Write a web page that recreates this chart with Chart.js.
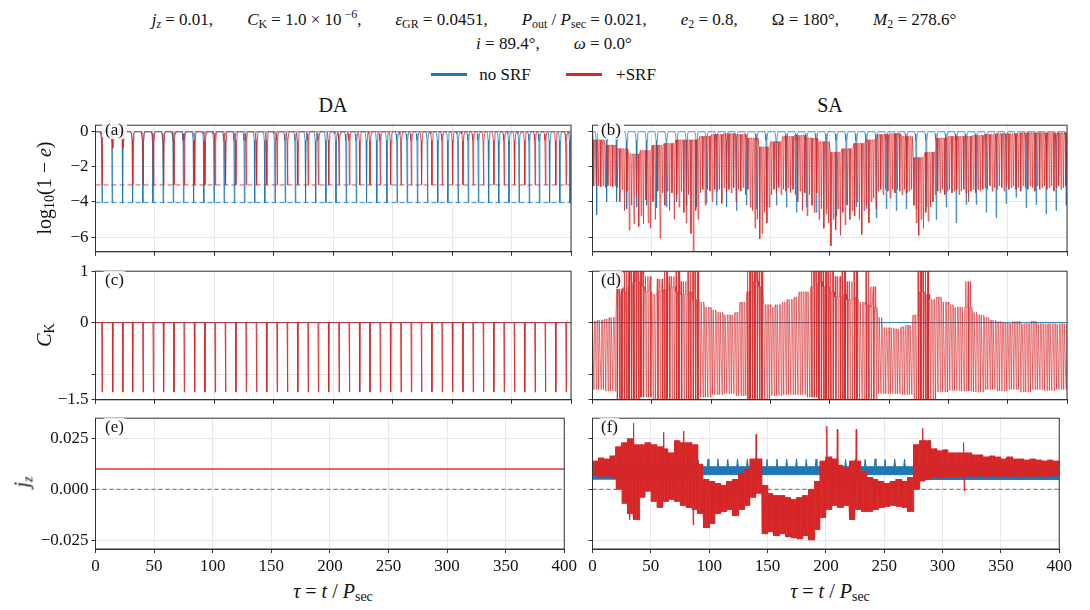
<!DOCTYPE html>
<html>
<head>
<meta charset="utf-8">
<script src="https://cdn.jsdelivr.net/npm/chart.js@4.4.1/dist/chart.umd.min.js"></script>
<style>
  body { margin: 0; background: #fff; font-family: 'Liberation Serif', 'DejaVu Serif', serif; color: #111; }
  #wrap { position: relative; width: 1090px; height: 610px; overflow: hidden; }
  canvas { position: absolute; }
  .txt { position: absolute; white-space: nowrap; transform: translate(-50%, -50%); }
  .rot { position: absolute; white-space: nowrap; transform: translate(-50%, -50%) rotate(-90deg); font-size: 20px; }
  sub { font-size: 70%; vertical-align: -0.25em; line-height: 0; }
  sup { font-size: 70%; vertical-align: 0.6em; line-height: 0; }
  .gap { display: inline-block; width: 34px; }
  .tag { position: absolute; font-size: 17px; line-height: 18px; padding: 0 3px; background: rgba(255,255,255,0.85); border-radius: 4px; }
  .leg { position: absolute; top: 73px; height: 3px; width: 36px; }
</style>
</head>
<body>
<div id="wrap">
  <div class="txt" style="left:554px;top:20px;font-size:17px;">
    <i>j<sub>z</sub></i> = 0.01,<span class="gap"></span><i>C</i><sub>K</sub> = 1.0 × 10<sup> −6</sup>,<span class="gap"></span><i>ε</i><sub>GR</sub> = 0.0451,<span class="gap"></span><i>P</i><sub>out</sub> / <i>P</i><sub>sec</sub> = 0.021,<span class="gap"></span><i>e</i><sub>2</sub> = 0.8,<span class="gap"></span>Ω = 180°,<span class="gap"></span><i>M</i><sub>2</sub> = 278.6°
  </div>
  <div class="txt" style="left:554px;top:44px;font-size:17px;"><i>i</i> = 89.4°,<span class="gap"></span><i>ω</i> = 0.0°</div>

  <div class="leg" style="left:431px;background:#1f77b4;"></div>
  <div class="txt" style="left:505px;top:75px;font-size:17px;">no SRF</div>
  <div class="leg" style="left:566px;background:#d62728;"></div>
  <div class="txt" style="left:636px;top:75px;font-size:17px;">+SRF</div>

  <div class="txt" style="left:333px;top:105px;font-size:20px;">DA</div>
  <div class="txt" style="left:830px;top:105px;font-size:20px;">SA</div>

  <canvas id="pa" width="580" height="153" style="left:0;top:112px;"></canvas>
  <canvas id="pb" width="490" height="153" style="left:585px;top:112px;"></canvas>
  <canvas id="pc" width="580" height="155" style="left:0;top:258px;"></canvas>
  <canvas id="pd" width="490" height="155" style="left:585px;top:258px;"></canvas>
  <canvas id="pe" width="580" height="172" style="left:0;top:405px;"></canvas>
  <canvas id="pf" width="490" height="172" style="left:585px;top:405px;"></canvas>

  <div class="tag" style="left:102px;top:121px;">(a)</div>
  <div class="tag" style="left:598px;top:121px;">(b)</div>
  <div class="tag" style="left:102px;top:271px;">(c)</div>
  <div class="tag" style="left:598px;top:271px;">(d)</div>
  <div class="tag" style="left:102px;top:418px;">(e)</div>
  <div class="tag" style="left:598px;top:418px;">(f)</div>

  <div class="rot" style="left:44px;top:188px;">log<sub>10</sub>(1 − <i>e</i>)</div>
  <div class="rot" style="left:44px;top:335px;"><i>C</i><sub>K</sub></div>
  <div class="rot" style="left:22px;top:482px;"><i>j<sub>z</sub></i></div>

  <div class="txt" style="left:333px;top:591px;font-size:20px;"><i>τ</i> = <i>t</i> / <i>P</i><sub>sec</sub></div>
  <div class="txt" style="left:830px;top:591px;font-size:20px;"><i>τ</i> = <i>t</i> / <i>P</i><sub>sec</sub></div>
</div>

<script>
// ---- data ----
const xTicks = [0, 50, 100, 150, 200, 250, 300, 350, 400];
const yTicksE = [-6, -4, -2, 0];
const yTicksCK = [-1.5, -1, 0, 1];
const yTicksJz = [-0.025, 0, 0.025];

// (a) DA, log10(1-e): times of the e-max spikes
const aBlueT = [5.5, 14.0, 22.8, 31.2, 39.8, 48.3, 56.9, 65.4, 74.0, 82.5, 91.1, 99.7, 108.2, 116.8, 125.3, 133.9,
  142.4, 151.0, 159.6, 168.1, 176.7, 185.2, 193.8, 202.3, 210.9, 219.4, 228.0, 236.6, 245.1, 253.7, 262.2, 270.8,
  279.3, 287.9, 296.4, 305.0, 313.6, 322.1, 330.7, 339.2, 347.8, 356.3, 364.9, 373.4, 382.0, 390.6, 399.1];
const aRedT = [5.5, 14.5, 23.0, 31.3, 40.0, 48.7, 57.3, 66.0, 74.7, 83.4, 92.1, 100.7, 109.4, 118.1, 126.8, 135.5,
  144.1, 152.8, 161.5, 170.2, 178.9, 187.5, 196.2, 204.9, 213.6, 222.3, 230.9, 239.6, 248.3, 257.0, 265.7, 274.3,
  283.0, 291.7, 300.4, 309.1, 317.7, 326.4, 335.1, 343.8, 352.5, 361.1, 369.8, 378.5, 387.2, 395.9];
const aBlueMin = -4.05;
const aRedMin = -3.05;
const aRedEarly = [-3.05, -0.97, -0.97];
const aTop = -0.04;

// (b) SA, log10(1-e)
const bBlueT = [3.5, 11.9, 20.3, 28.8, 37.2, 45.6, 54.0, 62.4, 70.9, 79.3, 87.7, 96.1, 104.5, 113.0, 121.4, 129.8,
  138.2, 146.6, 155.1, 163.5, 171.9, 180.3, 188.7, 197.2, 205.6, 214.0, 222.4, 230.8, 239.3, 247.7, 256.1, 264.5,
  272.9, 281.4, 289.8, 298.2, 306.6, 315.0, 323.5, 331.9, 340.3, 348.7, 357.1, 365.6, 374.0, 382.4, 390.8, 399.2];
const bBlueMin = [-4.75, -4.0, -4.0, -4.4, -4.3, -4.2, -4.35, -4.3, -4.0, -4.2,
  -4.3, -4.1, -4.2, -4.3, -4.5, -4.2, -4.4, -4.3, -4.2, -4.3,
  -4.6, -4.3, -4.6, -4.4, -4.8, -4.15, -4.3, -4.4, -4.9, -4.4,
  -4.5, -4.4, -4.4, -4.3, -5.0, -4.3, -5.2, -4.15, -4.15, -4.6,
  -4.9, -4.1, -3.75, -4.35, -4.15, -4.7, -4.5, -4.2];
// red minima, one every 2 time units (t = 1, 3, 5, ...)
const bRedLow = [
  -3.1, -3.1, -3.1, -3.15, -3.1, -3.2, -3.1, -3.1, -3.15, -3.1,
  -3.2, -4.0, -3.3, -4.5, -3.4, -5.6, -4.2, -5.25, -3.6, -5.4,
  -4.8, -5.25, -3.9, -5.2, -5.5, -4.0, -5.0, -3.4, -6.05, -3.5,
  -4.2, -3.4, -4.5, -3.5, -5.0, -3.6, -4.3, -3.4, -4.6, -5.2,
  -3.6, -5.8, -6.8, -4.5, -5.0, -3.5, -3.3, -4.2, -3.3, -3.4,
  -4.0, -3.3, -3.4, -3.3, -4.1, -3.2, -3.4, -3.3, -3.5, -3.2,
  -4.0, -3.3, -3.4, -3.2, -3.6, -3.3, -4.3, -4.5, -5.5, -5.0,
  -6.1, -5.8, -4.6, -5.2, -4.3, -3.6, -3.3, -3.5, -3.2, -3.6,
  -3.3, -3.4, -3.2, -3.5, -3.3, -3.6, -4.0, -3.4, -4.5, -3.5,
  -4.8, -3.6, -4.2, -4.6, -3.5, -5.0, -4.4, -5.5, -4.7, -5.2,
  -6.5, -5.0, -5.6, -4.4, -5.9, -4.6, -5.3, -4.2, -5.0, -4.5,
  -4.8, -4.0, -5.0, -5.85, -4.5, -4.2, -5.2, -4.0, -3.8, -4.4,
  -3.4, -3.3, -3.6, -3.3, -3.4, -3.8, -3.3, -3.5, -3.3, -3.4,
  -3.6, -3.3, -3.5, -3.4, -3.3, -4.2, -5.2, -5.9, -5.0, -5.5,
  -4.6, -5.1, -4.3, -4.0, -3.6, -3.4, -3.5, -3.3, -3.6, -3.4,
  -3.3, -3.5, -3.4, -3.3, -3.6, -3.4, -3.3, -3.5, -4.0, -3.4,
  -3.3, -3.5, -3.3, -3.4, -3.3, -3.2, -3.3, -3.1, -3.4, -3.2,
  -3.3, -3.1, -3.2, -3.4, -3.1, -3.3, -3.2, -3.1, -3.3, -3.2,
  -3.4, -3.1, -3.2, -3.3, -3.1, -3.2, -3.4, -3.1, -3.3, -3.2,
  -3.1, -3.3, -3.2, -3.1, -3.4, -3.2, -3.1, -3.3, -3.2, -3.1];
// upper envelope of the red curve, per 10 time units
const bRedTop = [-0.5, -0.8, -1.0, -1.3, -1.1, -0.8, -0.7, -0.5, -0.5, -0.3,
  -0.2, -0.15, -0.2, -0.4, -0.9, -0.6, -0.3, -0.25, -0.4, -0.6,
  -1.2, -1.0, -0.7, -0.5, -0.2, -0.15, -0.3, -1.5, -1.2, -0.4,
  -0.3, -0.3, -0.25, -0.2, -0.15, -0.15, -0.1, -0.1, -0.1, -0.1];
const bStart = -0.02;

// (c) DA, C_K
const ck0 = 1.0e-6;
const cRedMin = -1.35;

// (d) SA, C_K: baseline and upward reach per 5 time units, downward reach per 10
const dBase = [0.03, 0.05, 0.07, 0.10, 0.50, 0.60, 0.70, 0.80, 0.70, 0.60, 0.55, 0.60,
  0.65, 0.70, 0.60, 0.55, 0.60, 0.45, 0.40, 0.30, 0.25, 0.20, 0.15, 0.15,
  0.20, 0.40, 0.60, 0.80, 0.70, 0.35, 0.30, 0.35, 0.40, 0.45, 0.50, 0.60,
  0.60, 0.70, 0.80, 0.70, 0.60, 0.50, 0.55, 0.45, 0.50, 0.40, 0.35, 0.30,
  0.10, -0.10, -0.10, -0.12, -0.08, -0.05, 0.15, 0.60, 0.55, 0.45, 0.50, 0.40,
  0.35, 0.30, 0.30, 0.30, 0.20, 0.15, 0.10, 0.05, 0.02, 0.00, -0.02, 0.02,
  -0.03, -0.02, 0.03, -0.02, -0.03, -0.02, -0.03, -0.02];
const dPeak = [0, 0, 0, 0, 1.3, 1.3, 1.3, 1.3, 1.3, 0.9, 0, 0.85,
  1.3, 0.9, 1.3, 0.8, 1.3, 1.3, 0, 0, 0, 0, 0, 0,
  0, 0, 1.3, 1.3, 1.3, 0, 0, 0, 0, 0, 0, 0,
  0, 1.3, 1.3, 1.3, 1.3, 0.9, 1.3, 0.8, 1.3, 0, 1.3, 0.7,
  0, 0, 0, 0, 0, 0, 0, 1.3, 1.3, 0, 0, 0,
  0, 0, 0, 0.8, 0, 0, 0, 0, 0, 0, 0, 0,
  0, 0, 0, 0, 0, 0, 0, 0];
const dLow = [-1.3, -1.33, -1.6, -1.6, -1.45, -1.5, -1.55, -1.55, -1.6, -1.45,
  -1.4, -1.38, -1.42, -1.6, -1.55, -1.42, -1.4, -1.4, -1.45, -1.6,
  -1.6, -1.55, -1.55, -1.5, -1.38, -1.38, -1.4, -1.6, -1.5, -1.35,
  -1.32, -1.33, -1.35, -1.3, -1.33, -1.3, -1.35, -1.3, -1.32, -1.3];

// (e) DA, j_z
const jz0 = 0.01;

// (f) SA, j_z: red band per 5 time units
const fRedHi = [0.014, 0.0155, 0.015, 0.0165, 0.021, 0.023, 0.025, 0.022, 0.022, 0.023,
  0.022, 0.021, 0.020, 0.018, 0.024, 0.023, 0.023, 0.022, 0.0125, 0.005,
  0.004, 0.003, 0.002, 0.004, 0.005, 0.008, 0.010, 0.015, 0.015, 0.002,
  -0.002, -0.003, -0.003, -0.004, -0.005, -0.004, -0.003, 0.0, 0.004, 0.014,
  0.016, 0.015, 0.012, 0.011, 0.014, 0.014, 0.009, 0.006, 0.005, 0.004,
  0.003, 0.004, 0.005, 0.004, 0.006, 0.022, 0.024, 0.024, 0.020, 0.019,
  0.0195, 0.018, 0.018, 0.018, 0.018, 0.017, 0.017, 0.016, 0.0165, 0.016,
  0.015, 0.016, 0.015, 0.015, 0.0145, 0.015, 0.0145, 0.014, 0.0145, 0.014];
const fRedLo = [0.007, 0.006, 0.0065, 0.0055, 0.0, -0.007, -0.012, -0.015, -0.004, -0.001,
  -0.006, -0.009, -0.006, -0.005, -0.006, -0.008, -0.009, -0.010, -0.012, -0.019,
  -0.017, -0.012, -0.011, -0.010, -0.013, -0.010, -0.008, -0.004, -0.002, -0.022,
  -0.021, -0.023, -0.022, -0.0235, -0.024, -0.0245, -0.023, -0.025, -0.020, -0.014,
  -0.010, -0.008, -0.009, -0.008, -0.015, -0.010, -0.011, -0.011, -0.010, -0.009,
  -0.0085, -0.008, -0.0085, -0.009, -0.011, 0.0, 0.004, 0.005, 0.006, 0.0055,
  0.006, 0.006, 0.006, 0.006, 0.0065, 0.006, 0.0065, 0.006, 0.0065, 0.006,
  0.0065, 0.006, 0.0065, 0.006, 0.0065, 0.006, 0.0065, 0.006, 0.0065, 0.0065];
const fRedSpikeT = [31.6, 35.2, 61.0, 78.0, 86.3, 140.2, 200.8, 209.8, 226.0, 282.8, 318.0, 318.6];
const fRedSpikeV = [-0.015, 0.0326, 0.028, 0.0287, -0.0175, 0.027, 0.031, 0.0295, 0.0295, 0.030, 0.023, -0.0008];
// blue band per 20 time units, and its periodic teeth
const fBlueHi = [0.0115, 0.0115, 0.0115, 0.0115, 0.0111, 0.0111, 0.0111, 0.0111, 0.0111, 0.0111,
  0.0111, 0.0111, 0.0111, 0.0111, 0.0125, 0.0125, 0.0125, 0.0125, 0.0125, 0.0125];
const fBlueLo = [0.005, 0.005, 0.005, 0.005, 0.0072, 0.0072, 0.0072, 0.0072, 0.0072, 0.0072,
  0.0072, 0.0072, 0.0072, 0.0072, 0.0048, 0.0048, 0.0048, 0.0048, 0.0048, 0.0048];
const fTeethT = [6.4, 14.8, 23.2, 31.7, 40.1, 48.5, 56.9, 65.3, 73.8, 82.2, 90.6, 99.0, 107.4, 115.9, 124.3, 132.7,
  141.1, 149.5, 158.0, 166.4, 174.8, 183.2, 191.6, 200.1, 208.5, 216.9, 225.3, 233.7, 242.2, 250.6, 259.0, 267.4,
  275.8, 284.3, 292.7, 301.1, 309.5, 317.9, 326.4, 334.8, 343.2, 351.6, 360.0, 368.5, 376.9, 385.3, 393.7];
const fTeethV = [0.0135, 0.014, 0.0138, 0.0142, 0.014, 0.0138, 0.0142, 0.014, 0.0138, 0.0142, 0.0145, 0.0148, 0.015, 0.0147, 0.0149, 0.0148,
  0.015, 0.0147, 0.0149, 0.0148, 0.015, 0.0147, 0.0149, 0.0148, 0.015, 0.0147, 0.0149, 0.0148, 0.015, 0.0147, 0.0149, 0.0148,
  0.0145, 0.0135, 0.0138, 0.0135, 0.0138, 0.0135, 0.0138, 0.0135, 0.0138, 0.0135, 0.0138, 0.0135, 0.0138, 0.0135, 0.0138];

// ---- building the line series ----
const FONT = "'Liberation Serif', 'DejaVu Serif', serif";
const BLUE = '#1f77b4', RED = '#d62728';
const GRID = '#e9e9e9', AX = '#333';

function archLine(times, depthAt, top) {
  const pts = [{x: 0, y: top}];
  times.forEach((t, i) => {
    const d = depthAt(i);
    pts.push({x: t - 1.6, y: top}, {x: t - 0.9, y: top - 0.12}, {x: t - 0.4, y: top - 0.5},
      {x: t, y: d},
      {x: t + 0.4, y: top - 0.5}, {x: t + 0.9, y: top - 0.12}, {x: t + 1.6, y: top});
  });
  pts.push({x: 400, y: top});
  return pts;
}

function combLine(lows, tops, start) {
  const step = 400 / lows.length;
  const pts = [{x: 0, y: start}];
  lows.forEach((v, i) => {
    const t = i * step + step / 2;
    const top = tops[Math.min(tops.length - 1, Math.floor(t / 10))];
    pts.push({x: t - 0.55, y: top}, {x: t, y: v}, {x: t + 0.55, y: top});
  });
  return pts;
}

function ckLine() {
  const step = 400 / bRedLow.length;
  const pts = [{x: 0, y: dBase[0]}];
  bRedLow.forEach((_, i) => {
    const t = i * step + step / 2;
    const b = dBase[Math.floor(t / 5)], p = dPeak[Math.floor(t / 5)], lo = dLow[Math.floor(t / 10)];
    pts.push({x: t - 0.7, y: b});
    if (p >= 1.3) pts.push({x: t - 0.5, y: p}, {x: t - 0.25, y: lo}, {x: t, y: p});
    else if (p) pts.push({x: t - 0.3, y: p});
    pts.push({x: t + 0.2, y: lo}, {x: t + 0.7, y: b});
  });
  return pts;
}

function spikeLine(times, base, depth) {
  const pts = [{x: 0, y: base}];
  times.forEach(t => pts.push({x: t - 0.35, y: base}, {x: t, y: depth}, {x: t + 0.35, y: base}));
  pts.push({x: 400, y: base});
  return pts;
}

function zigzag(hi, lo) {
  const w = 400 / hi.length, n = 20;
  const pts = [];
  hi.forEach((h, i) => {
    for (let k = 0; k < n; k++) pts.push({x: i * w + (k + 0.5) * w / n, y: k % 2 ? lo[i] : h});
  });
  return pts;
}

function spikesOnBand(times, vals, hi, lo) {
  const w = 400 / hi.length;
  const pts = [];
  times.forEach((t, i) => {
    const b = Math.min(hi.length - 1, Math.floor(t / w));
    const mid = (hi[b] + lo[b]) / 2;
    pts.push({x: t - 0.4, y: mid}, {x: t, y: vals[i]}, {x: t + 0.4, y: mid}, {x: t + 0.5, y: null});
  });
  return pts;
}

function blueUpper() {
  const w = 400 / fBlueHi.length;
  const hiAt = t => fBlueHi[Math.min(fBlueHi.length - 1, Math.floor(t / w))];
  const pts = [{x: 0, y: hiAt(0)}];
  fTeethT.forEach((t, i) => pts.push({x: t - 0.7, y: hiAt(t)}, {x: t, y: fTeethV[i]}, {x: t + 0.7, y: hiAt(t)}));
  pts.push({x: 400, y: hiAt(399)});
  return pts;
}

function blueLower() {
  const w = 400 / fBlueLo.length;
  const pts = [];
  fBlueLo.forEach((v, i) => pts.push({x: i * w, y: v}, {x: (i + 1) * w, y: v}));
  return pts;
}

const flat = v => [{x: 0, y: v}, {x: 400, y: v}];

function line(data, color, width, extra) {
  return Object.assign({data, borderColor: color, borderWidth: width, pointRadius: 0, fill: false, tension: 0}, extra || {});
}

// ---- axes and panels ----
const frame = {
  id: 'frame',
  afterDraw(chart) {
    const {ctx, chartArea: a} = chart;
    ctx.save();
    ctx.strokeStyle = AX;
    ctx.lineWidth = 1;
    ctx.strokeRect(a.left, a.top, a.right - a.left, a.bottom - a.top);
    ctx.restore();
  }
};

const minus = s => s.replace('-', '−');

function panel(id, opts) {
  const left = opts.col === 0;
  new Chart(document.getElementById(id), {
    type: 'line',
    data: {datasets: opts.datasets},
    options: {
      responsive: false,
      animation: false,
      parsing: false,
      events: [],
      layout: {padding: {top: 10, right: left ? 9 : 8, left: 0, bottom: 0}},
      plugins: {legend: {display: false}, tooltip: {enabled: false}},
      scales: {
        x: {
          type: 'linear', min: 0, max: 400,
          afterBuildTicks: s => { s.ticks = xTicks.map(v => ({value: v})); },
          afterFit: s => { s.height = opts.xLabels ? 28 : 10; },
          grid: {color: GRID, tickColor: AX, tickLength: 4},
          border: {color: AX},
          ticks: {color: '#111', font: {family: FONT, size: 17}, padding: 3, maxRotation: 0, autoSkip: false,
            callback: v => opts.xLabels ? String(v) : ''}
        },
        y: {
          type: 'linear', min: opts.yRange[0], max: opts.yRange[1],
          afterBuildTicks: s => { s.ticks = opts.yTicks.map(v => ({value: v})); },
          afterFit: s => { s.width = left ? 95.5 : 7.5; },
          grid: {color: GRID, tickColor: AX, tickLength: 4},
          border: {color: AX},
          ticks: {color: '#111', font: {family: FONT, size: 17}, padding: 3, autoSkip: false,
            callback: v => left ? opts.fmt(v) : ''}
        }
      }
    },
    plugins: [frame]
  });
}

const fmtE = v => minus(String(v));
const fmtCK = v => v === -1 ? '' : minus(String(v));
const fmtJz = v => minus(v.toFixed(3));

panel('pa', {col: 0, yRange: [-6.83, 0.33], yTicks: yTicksE, fmt: fmtE, datasets: [
  line(archLine(aRedT, i => aRedEarly[i] !== undefined ? aRedEarly[i] : aRedMin, aTop), 'rgba(214,39,40,0.8)', 1, {order: 0}),
  line(archLine(aBlueT, () => aBlueMin, aTop), 'rgba(31,119,180,0.8)', 1, {order: 1}),
  line(flat(aRedMin), 'rgba(214,39,40,0.8)', 1, {order: 2, borderDash: [5, 3]}),
  line(flat(aBlueMin), 'rgba(31,119,180,0.8)', 1, {order: 3, borderDash: [5, 3]})
]});

panel('pb', {col: 1, yRange: [-6.83, 0.33], yTicks: yTicksE, fmt: fmtE, datasets: [
  line(combLine(bRedLow, bRedTop, bStart), 'rgba(214,39,40,0.7)', 1, {order: 0}),
  line(archLine(bBlueT, i => bBlueMin[i], aTop), 'rgba(31,119,180,0.75)', 1, {order: 1})
]});

panel('pc', {col: 0, yRange: [-1.5, 1], yTicks: yTicksCK, fmt: fmtCK, datasets: [
  line(spikeLine(aRedT, ck0, cRedMin), 'rgba(214,39,40,0.85)', 1, {order: 0}),
  line(flat(ck0), BLUE, 1, {order: 1})
]});

panel('pd', {col: 1, yRange: [-1.5, 1], yTicks: yTicksCK, fmt: fmtCK, datasets: [
  line(ckLine(), 'rgba(214,39,40,0.7)', 0.9, {order: 0}),
  line(flat(ck0), BLUE, 1, {order: 1})
]});

panel('pe', {col: 0, xLabels: true, yRange: [-0.0294, 0.035], yTicks: yTicksJz, fmt: fmtJz, datasets: [
  line(flat(jz0), '#e06a6a', 2, {order: 0}),
  line(flat(0), '#666', 1, {order: 2, borderDash: [4, 3]})
]});

panel('pf', {col: 1, xLabels: true, yRange: [-0.0294, 0.035], yTicks: yTicksJz, fmt: fmtJz, datasets: [
  line(spikesOnBand(fRedSpikeT, fRedSpikeV, fRedHi, fRedLo), RED, 1, {order: 0}),
  line(zigzag(fRedHi, fRedLo), RED, 1, {order: 1}),
  line(blueUpper(), BLUE, 1, {order: 3}),
  line(blueLower(), BLUE, 1, {order: 2, fill: '-1', backgroundColor: BLUE}),
  line(flat(0), '#666', 1, {order: 4, borderDash: [4, 3]})
]});
</script>
</body>
</html>
